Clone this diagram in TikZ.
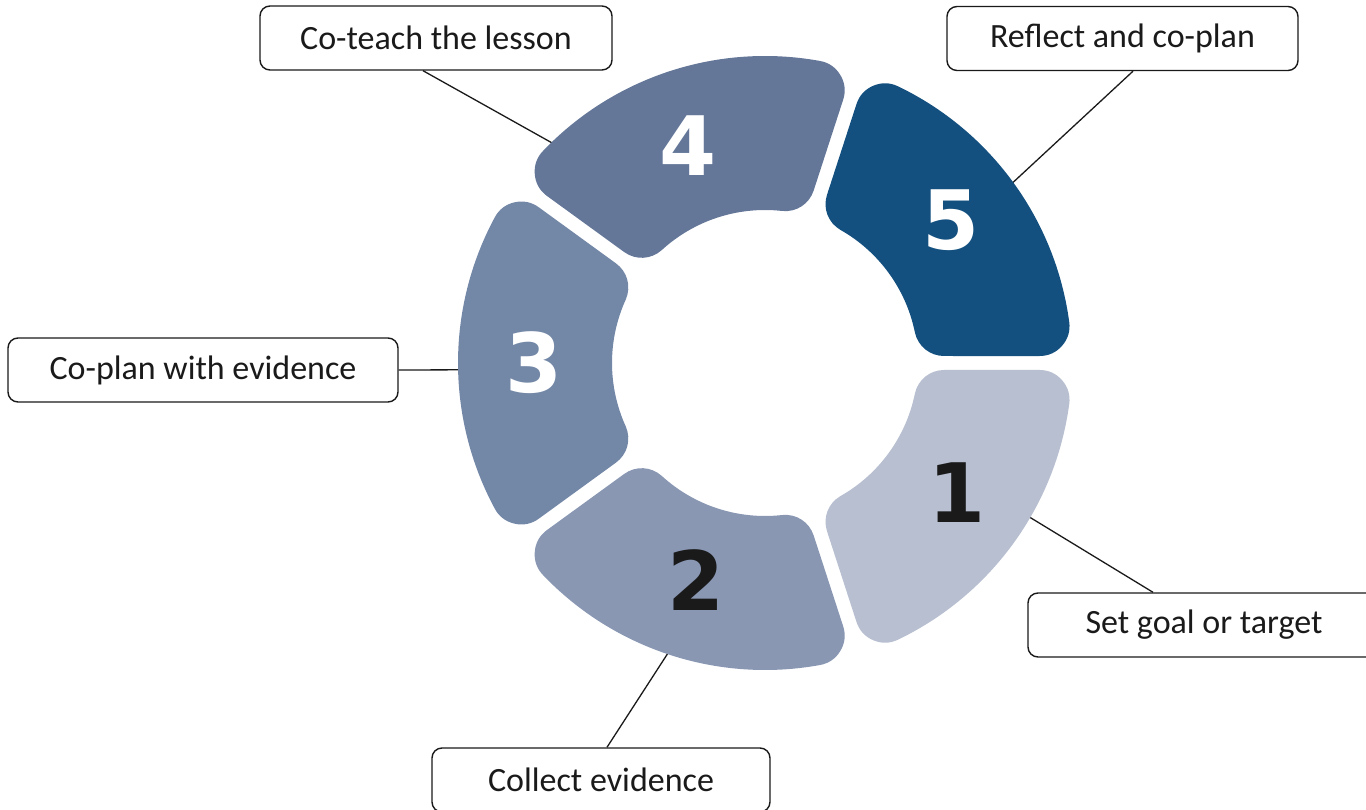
\documentclass[tikz,border=0pt]{standalone}
\usepackage{fontspec}
\setmainfont{Carlito}
\newfontfamily\numfont{DejaVu Sans}
\definecolor{c1}{HTML}{B7BFD0}
\definecolor{c2}{HTML}{8997B3}
\definecolor{c3}{HTML}{7387A7}
\definecolor{c4}{HTML}{647799}
\definecolor{c5}{HTML}{13507F}
\definecolor{ink}{HTML}{1A1A1A}
\newcommand\ringseg[2]{%
  \pgfmathsetmacro\segA{#1-36}%
  \pgfmathsetmacro\segB{#1+36}%
  \pgfmathsetmacro\segTo{asin(37/277)}%
  \pgfmathsetmacro\segTi{asin(37/183)}%
  \path[seg, fill=#2, draw=#2]
    ({\segA+\segTo}:277) arc[start angle=\segA+\segTo, end angle=\segB-\segTo, radius=277]
    -- ({\segB-\segTi}:183) arc[start angle=\segB-\segTi, end angle=\segA+\segTi, radius=183]
    -- cycle;
}
\begin{document}
\begin{tikzpicture}[x=1pt,y=1pt,
  seg/.style={line width=60pt, line join=round},
  lab/.style={draw=ink, line width=1.4pt, rounded corners=10pt, minimum height=64pt,
    inner xsep=0pt, font=\fontsize{34}{40}\selectfont, text=ink, fill=white},
  num/.style={font=\numfont\bfseries\fontsize{82}{90}\selectfont, inner sep=0pt},
  conn/.style={line width=1.3pt, draw=ink}]
\useasboundingbox (-765,363) rectangle (601,-447);
\clip (-765,363) rectangle (601,-447);
% label boxes
\node[lab, minimum width=352pt] (t4) at (-329,325) {Co-teach the lesson};
\node[lab, minimum width=351pt] (t5) at (357.5,324.5) {Reflect and co-plan};
\node[lab, minimum width=390pt] (t3) at (-562,-7) {Co-plan with evidence};
\node[lab, minimum width=352pt] (t1) at (439,-262) {Set goal or target};
\node[lab, minimum width=338pt] (t2) at (-164,-417) {Collect evidence};
% connector ends on ring
\coordinate (e4) at (133.7:300);
\coordinate (e5) at (35.9:300);
\coordinate (e3) at (181.3:300);
\coordinate (e1) at (-30.2:300);
\coordinate (e2) at (251.8:300);
\draw[conn] ([xshift=-13pt]t4.south) -- (e4);
\draw[conn] ([xshift=10.5pt]t5.south) -- (e5);
\draw[conn] (t3.east) -- (e3);
\draw[conn] ([xshift=-51pt]t1.north) -- (e1);
\draw[conn] ([xshift=6pt]t2.north) -- (e2);
% ring segments
\ringseg{-36}{c1}
\ringseg{252}{c2}
\ringseg{180}{c3}
\ringseg{108}{c4}
\ringseg{36}{c5}
% numbers
\node[num, text=ink] (n1) at (-34:232) {1};
\node[num, text=ink] (n2) at (252.5:228) {2};
\node[num, text=white] (n3) at (180:231) {3};
\node[num, text=white] (n4) at (109.5:231) {4};
\node[num, text=white] (n5) at (37.5:235) {5};
\end{tikzpicture}
\end{document}
